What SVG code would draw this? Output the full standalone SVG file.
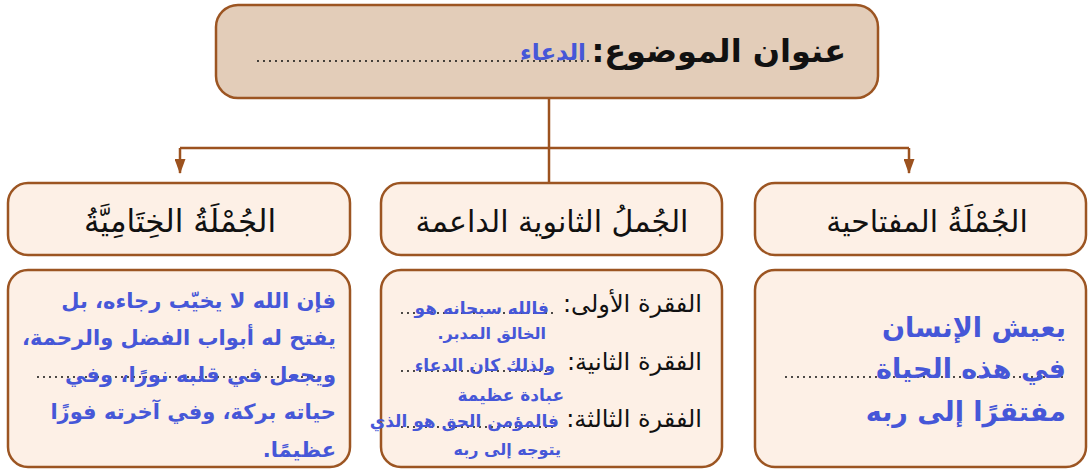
<svg xmlns="http://www.w3.org/2000/svg" width="1089" height="471" viewBox="0 0 1089 471">
<style>
.box{fill:#fdf0e6;stroke:#9c5522;stroke-width:2.5}
.top{fill:#e3cdb9;stroke:#9c5522;stroke-width:2.5}
.con{stroke:#9c521f;stroke-width:2.5;fill:none}
.dots{stroke:#111;stroke-width:2;stroke-dasharray:0 6;stroke-linecap:round;fill:none}
.blk{font-family:"DejaVu Sans",sans-serif;fill:#111}
.blu{font-family:"DejaVu Sans",sans-serif;fill:#4657d8;font-weight:bold}
</style>
<defs>
<marker id="ah" markerWidth="15" markerHeight="11" refX="14" refY="5.5" orient="auto" markerUnits="userSpaceOnUse" viewBox="0 0 15 11">
<path d="M0,0 L15,5.5 L0,11 Z" fill="#9c521f"/>
</marker>
</defs>
<g id="connectors">
<path class="con" d="M549,98 V183"/>
<path class="con" d="M180,148 H909"/>
<path class="con" d="M180,148 V173" marker-end="url(#ah)"/>
<path class="con" d="M909,148 V173" marker-end="url(#ah)"/>
</g>
<g id="title">
<rect class="top" x="216" y="5" width="662" height="93" rx="22"/>
<path class="dots" d="M258,61 H590"/>
<text class="blk" x="846" y="62" direction="rtl" text-anchor="start" font-size="32" font-weight="bold">عنوان الموضوع:</text>
<text class="blu" x="586" y="60" direction="rtl" text-anchor="start" font-size="23">الدعاء</text>
</g>
<g id="closing-head">
<rect class="box" x="8" y="183" width="342" height="72" rx="20"/>
<text class="blk" x="180" y="232" direction="rtl" text-anchor="middle" font-size="31">الجُمْلَةُ الخِتَامِيَّةُ</text>
</g>
<g id="support-head">
<rect class="box" x="381" y="183" width="341" height="72" rx="20"/>
<text class="blk" x="552" y="232" direction="rtl" text-anchor="middle" font-size="30">الجُملُ الثانوية الداعمة</text>
</g>
<g id="key-head">
<rect class="box" x="755" y="183" width="331" height="72" rx="20"/>
<text class="blk" x="927" y="232" direction="rtl" text-anchor="middle" font-size="30">الجُمْلَةُ المفتاحية</text>
</g>
<g id="closing-body">
<rect class="box" x="8" y="270" width="342" height="197" rx="20"/>
<path class="dots" d="M38,377 H336"/>
<text class="blu" x="336" y="308" direction="rtl" text-anchor="start" font-size="21">فإن الله لا يخيّب رجاءه، بل</text>
<text class="blu" x="336" y="345" direction="rtl" text-anchor="start" font-size="21">يفتح له أبواب الفضل والرحمة،</text>
<text class="blu" x="336" y="382" direction="rtl" text-anchor="start" font-size="21">ويجعل في قلبه نورًا، وفي</text>
<text class="blu" x="336" y="419" direction="rtl" text-anchor="start" font-size="21">حياته بركة، وفي آخرته فوزًا</text>
<text class="blu" x="336" y="457" direction="rtl" text-anchor="start" font-size="21">عظيمًا.</text>
</g>
<g id="support-body">
<rect class="box" x="381" y="270" width="341" height="197" rx="20"/>
<text class="blk" x="702" y="312" direction="rtl" text-anchor="start" font-size="24">الفقرة الأولى:</text>
<path class="dots" d="M402,313 H555"/>
<text class="blu" x="549" y="314" direction="rtl" text-anchor="start" font-size="17">فالله سبحانه هو</text>
<text class="blu" x="546" y="339" direction="rtl" text-anchor="start" font-size="16">الخالق المدبر.</text>
<text class="blk" x="702" y="370" direction="rtl" text-anchor="start" font-size="24">الفقرة الثانية:</text>
<path class="dots" d="M402,371 H552"/>
<text class="blu" x="555" y="371" direction="rtl" text-anchor="start" font-size="17">ولذلك كان الدعاء</text>
<text class="blu" x="564" y="401" direction="rtl" text-anchor="start" font-size="17">عبادة عظيمة</text>
<text class="blk" x="702" y="427" direction="rtl" text-anchor="start" font-size="24">الفقرة الثالثة:</text>
<path class="dots" d="M402,427 H555"/>
<text class="blu" x="559" y="427" direction="rtl" text-anchor="start" font-size="17">فالمؤمن الحق هو الذي</text>
<text class="blu" x="561" y="455" direction="rtl" text-anchor="start" font-size="16">يتوجه إلى ربه</text>
</g>
<g id="key-body">
<rect class="box" x="755" y="270" width="331" height="197" rx="20"/>
<path class="dots" d="M786,377 H1067"/>
<text class="blu" x="1066" y="337" direction="rtl" text-anchor="start" font-size="27">يعيش الإنسان</text>
<text class="blu" x="1066" y="378" direction="rtl" text-anchor="start" font-size="27">في هذه الحياة</text>
<text class="blu" x="1066" y="421" direction="rtl" text-anchor="start" font-size="27">مفتقرًا إلى ربه</text>
</g>
</svg>
